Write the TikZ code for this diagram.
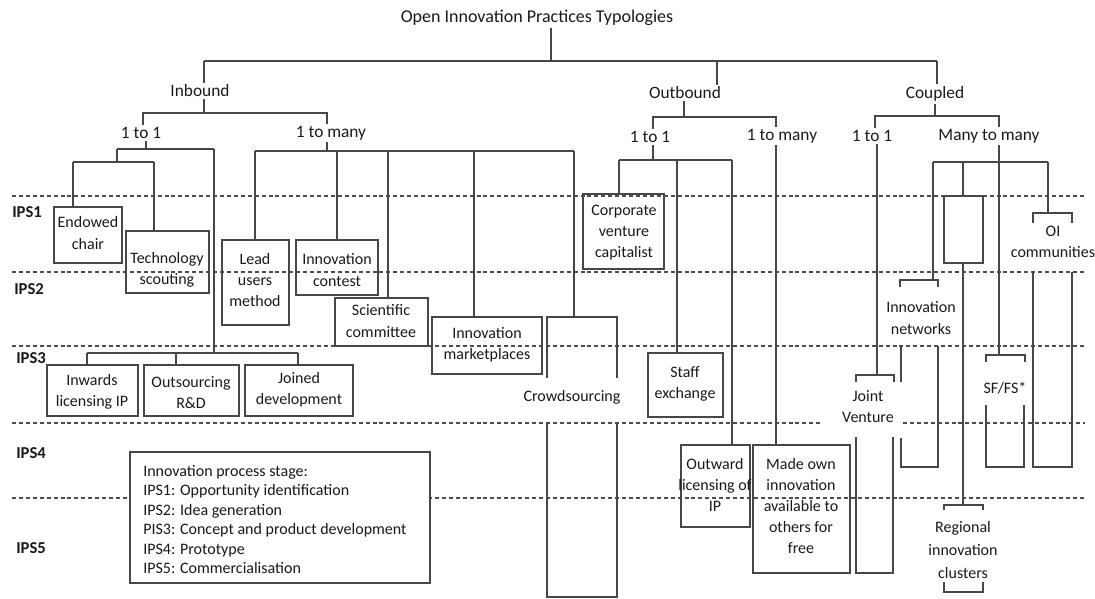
\documentclass[tikz,border=0pt]{standalone}
\usepackage{fontspec}
\setmainfont{Carlito}
\usetikzlibrary{fit}
\begin{document}
\begin{tikzpicture}[x=0.75pt,y=-0.75pt,
 ln/.style={draw=black!72,line width=1.4pt},
 dsh/.style={draw=black!70,line width=1.1pt,dash pattern=on 3pt off 2.2pt},
 bx/.style={draw=black!72,line width=1.4pt,inner sep=0pt},
 hdr/.style={font=\fontsize{13}{15}\selectfont,inner sep=1.5pt,text=black!90},
 lbl/.style={font=\fontsize{12}{15.8}\selectfont,align=center,inner sep=1pt,text=black!90},
 ips/.style={font=\bfseries\fontsize{12.5}{15}\selectfont,anchor=west,inner sep=0pt,text=black!90}]
\useasboundingbox (0,0) rectangle (1095,599);

% stage separators
\foreach \y in {196,272,346,498} \draw[dsh] (12,\y) -- (1085,\y);
\draw[dsh] (12,423) -- (820,423);
\draw[dsh] (903,423) -- (1085,423);

% stage labels
\node[ips] (ips1) at (12,212) {IPS1};
\node[ips] (ips2) at (14,289) {IPS2};
\node[ips] (ips3) at (16,358) {IPS3};
\node[ips] (ips4) at (16,453) {IPS4};
\node[ips] (ips5) at (16,548) {IPS5};

% headers
\node[hdr,font=\fontsize{13.5}{16}\selectfont] (T) at (537,18) {Open Innovation Practices Typologies};
\node[hdr] (inb) at (200,91) {Inbound};
\node[hdr] (outb) at (685,93) {Outbound};
\node[hdr] (coup) at (935,94) {Coupled};
\node[hdr] (in11) at (141,133) {1 to 1};
\node[hdr] (in1m) at (331,133) {1 to many};
\node[hdr] (out11) at (650,137) {1 to 1};
\node[hdr] (out1m) at (782,136) {1 to many};
\node[hdr] (cp11) at (872,136) {1 to 1};
\node[hdr] (cpmm) at (989,136) {Many to many};

% boxes
\node[bx,fit={(54,207)(122,263)}] (endowed) {};
\node[lbl] (endowedt) at (88,233) {Endowed\\chair};
\node[bx,fit={(126,231)(209,293)}] (tech) {};
\node[lbl] (techt) at (167,270) {Technology\\scouting};
\node[bx,fit={(222,240)(289,325)}] (lead) {};
\node[lbl] (leadt) at (255,280) {Lead\\users\\method};
\node[bx,fit={(296,240)(378,295)}] (contest) {};
\node[lbl] (contestt) at (337,270) {Innovation\\contest};
\node[bx,fit={(335,298)(428,346)}] (sci) {};
\node[lbl] (scit) at (381,321) {Scientific\\committee};
\node[bx,fit={(432,317)(542,374)}] (mkt) {};
\node[lbl] (mktt) at (487,345) {Innovation\\marketplaces};
\node[bx,fit={(583,194)(664,269)}] (cvc) {};
\node[lbl] (cvct) at (624,233) {Corporate\\venture\\capitalist};
\node[bx,fit={(648,353)(723,417)}] (staff) {};
\node[lbl] (stafft) at (685,384) {Staff\\exchange};
\node[bx,fit={(681,445)(750,527)}] (outl) {};
\node[lbl] (outlt) at (715,485) {Outward\\\makebox[0pt]{licensing of}\\IP};
\node[bx,fit={(753,445)(850,573)}] (made) {};
\node[lbl] (madet) at (801,506) {Made own\\innovation\\available to\\others for\\free};
\node[bx,fit={(47,365)(138,416)}] (inw) {};
\node[lbl] (inwt) at (92,392) {Inwards\\licensing IP};
\node[bx,fit={(144,365)(239,416)}] (outs) {};
\node[lbl] (outst) at (191,393) {Outsourcing\\R\&D};
\node[bx,fit={(245,365)(353,416)}] (joined) {};
\node[lbl] (joinedt) at (299,390) {Joined\\development};
\node[bx,fit={(944,196)(983,263)}] (ebox) {};

% top level
\coordinate (t0) at (551,61);
\coordinate (tL) at (204,61);
\coordinate (tM) at (717,61);
\coordinate (tR) at (937,61);
\draw[ln] (T.south -| t0) -- (t0);
\draw[ln] (tL) -- (tR);
\draw[ln] (tL) -- (tL |- inb.north);
\draw[ln] (tM) -- (tM |- outb.north);
\draw[ln] (tR) -- (tR |- coup.north);

% inbound
\coordinate (ib) at (204,113);
\coordinate (ibL) at (143,113);
\coordinate (ibR) at (327,113);
\draw[ln] (inb.south -| ib) -- (ib);
\draw[ln] (in11.north -| ibL) -- (ibL) -- (ibR) -- (in1m.north -| ibR);

% inbound 1 to 1
\coordinate (a0) at (146,149);
\coordinate (aL) at (117,149);
\coordinate (aR) at (214,149);
\draw[ln] (in11.south -| a0) -- (a0);
\draw[ln] (aL) -- (aR);
\coordinate (b0) at (117,162);
\coordinate (bL) at (73,162);
\coordinate (bR) at (154,162);
\draw[ln] (aL) -- (b0);
\draw[ln] (bL) -- (bR);
\draw[ln] (bL) -- (endowed.north -| bL);
\draw[ln] (bR) -- (tech.north -| bR);
\coordinate (c0) at (214,353);
\coordinate (cL) at (87,353);
\coordinate (cM) at (176,353);
\coordinate (cR) at (298,353);
\draw[ln] (aR) -- (c0);
\draw[ln] (cL) -- (cR);
\draw[ln] (cL) -- (inw.north -| cL);
\draw[ln] (cM) -- (outs.north -| cM);
\draw[ln] (cR) -- (joined.north -| cR);

% inbound 1 to many
\coordinate (d0) at (327,151);
\coordinate (d1) at (255,151);
\coordinate (d2) at (337,151);
\coordinate (d3) at (388,151);
\coordinate (d4) at (474,151);
\coordinate (d5) at (574,151);
\draw[ln] (in1m.south -| d0) -- (d0);
\draw[ln] (d1) -- (d5);
\draw[ln] (d1) -- (lead.north -| d1);
\draw[ln] (d2) -- (contest.north -| d2);
\draw[ln] (d3) -- (sci.north -| d3);
\draw[ln] (d4) -- (mkt.north -| d4);
\coordinate (e0) at (574,317);
\draw[ln] (d5) -- (e0);
\draw[ln] (547,378) -- (547,317) -- (617,317) -- (617,378);
\node[lbl] (crowd) at (572,397) {Crowdsourcing};
\draw[ln] (547,422) -- (547,597) -- (617,597) -- (617,422);

% outbound
\coordinate (f0) at (684,117);
\coordinate (fL) at (653,117);
\coordinate (fR) at (776,117);
\draw[ln] (outb.south -| f0) -- (f0);
\draw[ln] (out11.north -| fL) -- (fL) -- (fR) -- (out1m.north -| fR);
\coordinate (g0) at (653,160);
\coordinate (g1) at (619,160);
\coordinate (g2) at (677,160);
\coordinate (g3) at (732,160);
\draw[ln] (out11.south -| g0) -- (g0);
\draw[ln] (g1) -- (g3);
\draw[ln] (g1) -- (cvc.north -| g1);
\draw[ln] (g2) -- (staff.north -| g2);
\draw[ln] (g3) -- (outl.north -| g3);
\draw[ln] (out1m.south -| fR) -- (made.north -| fR);

% coupled
\coordinate (h0) at (935,116);
\coordinate (hL) at (875,116);
\coordinate (hR) at (999,116);
\draw[ln] (coup.south -| h0) -- (h0);
\draw[ln] (cp11.north -| hL) -- (hL) -- (hR) -- (cpmm.north -| hR);

% coupled 1 to 1
\coordinate (k0) at (877,375);
\draw[ln] (cp11.south -| k0) -- (k0);
\draw[ln] (856,382) -- (856,375) -- (894,375) -- (894,382);
\node[lbl] (jv) at (868,407) {Joint\\Venture};
\draw[ln] (856,437) -- (856,573) -- (893,573) -- (893,437);

% many to many
\coordinate (m0) at (999,162);
\coordinate (m1) at (933,162);
\coordinate (m2) at (963,162);
\coordinate (m4) at (1048,162);
\draw[ln] (cpmm.south -| m0) -- (m0);
\draw[ln] (m1) -- (m4);
% innovation networks
\draw[ln] (m1) -- (933,280);
\draw[ln] (900,287) -- (900,280) -- (938,280) -- (938,287);
\node[lbl] (innet) at (921,318) {Innovation\\networks};
\draw[ln] (901,346) -- (901,382);
\draw[ln] (901,438) -- (901,467) -- (938,467) -- (938,346);
% regional clusters
\draw[ln] (m2) -- (ebox.north -| m2);
\draw[ln] (ebox.south -| m2) -- (963,505);
\draw[ln] (944,510) -- (944,505) -- (983,505) -- (983,510);
\node[lbl,font=\fontsize{12}{17}\selectfont] (ric) at (963,550) {Regional\\innovation\\clusters};
\draw[ln] (944,582) -- (944,592) -- (983,592) -- (983,582);
% SF/FS
\draw[ln] (m0) -- (999,355);
\draw[ln] (986,362) -- (986,355) -- (1025,355) -- (1025,362);
\node[lbl] (sffs) at (1005,388) {SF/FS*};
\draw[ln] (986,405) -- (986,467) -- (1024,467) -- (1024,405);
% OI communities
\draw[ln] (m4) -- (1048,213);
\draw[ln] (1033,223) -- (1033,213) -- (1072,213) -- (1072,223);
\node[lbl] (oi) at (1053,242) {OI\\communities};
\draw[ln] (1033,272) -- (1033,467) -- (1072,467) -- (1072,272);

% legend
\node[bx,fill=white,fit={(130,452)(430,583)}] (leg) {};
\node[anchor=north west,align=left,inner sep=0pt,font=\fontsize{12}{14.6}\selectfont,text=black!90] (legt) at (143,465)
 {Innovation process stage:\\IPS1: Opportunity identification\\IPS2: Idea generation\\PIS3: Concept and product development\\IPS4: Prototype\\IPS5: Commercialisation};
\end{tikzpicture}
\end{document}
